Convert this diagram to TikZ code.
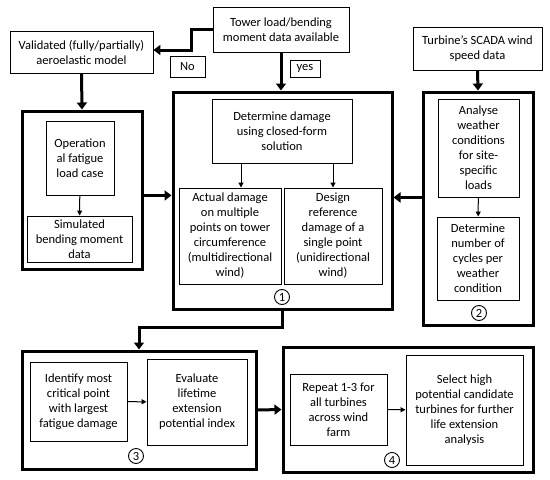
\documentclass[tikz,border=0pt]{standalone}
\usepackage{fontspec}
\setmainfont{Carlito}
\usetikzlibrary{arrows.meta}

\begin{document}
\begin{tikzpicture}[
x=1pt,y=-1pt,
font=\fontsize{12.5}{15}\selectfont,
group/.style={draw,line width=3pt,inner sep=0pt},
box/.style={draw,line width=0.9pt,align=center,inner sep=2pt},
tagbox/.style={draw,line width=0.9pt,inner sep=1pt},
num/.style={circle,draw,line width=0.9pt,inner sep=1pt,minimum size=15pt},
big arrow/.style={line width=3pt,-{Triangle[width=10pt,length=7pt]}},
small arrow/.style={line width=1pt,-{Triangle[width=5pt,length=5pt]}}
]
\useasboundingbox (0,0) rectangle (550,480);

% outer groups
\node[group,minimum width=120,minimum height=158] (loadbox) at (82,190) {};
\node[group,minimum width=219,minimum height=217] (dambox) at (282.5,200.5) {};
\node[group,minimum width=110,minimum height=233] (windbox) at (478,208.5) {};
\node[group,minimum width=234,minimum height=118] (critbox) at (139,410) {};
\node[group,minimum width=250,minimum height=125] (farmbox) at (408,409.5) {};

% inputs
\node[box,minimum width=143,minimum height=42] (valid) at (81.5,52)
	{Validated (fully/partially)\\aeroelastic model};
\node[box,minimum width=136,minimum height=45] (tower) at (281,29.5)
	{Tower load/bending\\moment data available};
\node[box,minimum width=129,minimum height=43] (scada) at (477.5,48.5)
	{Turbine’s SCADA wind\\speed data};
\node[tagbox,minimum width=35,minimum height=21] (no) at (187.5,66.5) {No};
\node[tagbox,minimum width=30,minimum height=17] (yes) at (305,68.5) {yes};

% load case
\node[box,minimum width=68,minimum height=74] (oper) at (80,158)
	{Operation\\al fatigue\\load case};
\node[box,minimum width=105,minimum height=46] (simul) at (79.5,239)
	{Simulated\\bending moment\\data};

% step 1
\node[box,minimum width=140,minimum height=64] (determ) at (282,131)
	{Determine damage\\using closed-form\\solution};
\node[box,minimum width=102,minimum height=96] (actual) at (230,236)
	{Actual damage\\on multiple\\points on tower\\circumference\\(multidirectional\\wind)};
\node[box,minimum width=98,minimum height=96] (design) at (333,236)
	{Design\\reference\\damage of a\\single point\\(unidirectional\\wind)};
\node[num] (n1) at (282,297) {1};

% step 2
\node[box,minimum width=81,minimum height=98] (analyse) at (478.5,148)
	{Analyse\\weather\\conditions\\for site-\\specific\\loads};
\node[box,minimum width=82,minimum height=83] (cycles) at (478,258.5)
	{Determine\\number of\\cycles per\\weather\\condition};
\node[num] (n2) at (479,313) {2};

% step 3
\node[box,minimum width=97,minimum height=79] (ident) at (78.5,401.5)
	{Identify most\\critical point\\with largest\\fatigue damage};
\node[box,minimum width=100,minimum height=86] (evalu) at (197,402)
	{Evaluate\\lifetime\\extension\\potential index};
\node[num] (n3) at (136,456) {3};

% step 4
\node[box,minimum width=97,minimum height=71] (repeat) at (338.5,409.5)
	{Repeat 1-3 for\\all turbines\\across wind\\farm};
\node[box,minimum width=117,minimum height=110] (select) at (464.5,410)
	{Select high\\potential candidate\\turbines for further\\life extension\\analysis};
\node[num] (n4) at (392,460) {4};

% connectors
\coordinate (nobend1) at (191,29.5);
\coordinate (nobend2) at (191,50);
\draw[big arrow] (tower.west) -- (nobend1) -- (nobend2) -- (valid.east |- nobend2);
\draw[big arrow] (tower.south) -- (tower.south |- dambox.north);
\draw[big arrow] (valid.south) -- (loadbox.north);
\draw[big arrow] (scada.south) -- (windbox.north);
\draw[big arrow] (loadbox.east |- oper.south) -- (dambox.west |- oper.south);
\draw[big arrow] (windbox.west |- analyse.south) -- (dambox.east |- analyse.south);
\draw[big arrow] (dambox.south) -- ++(0,17) -| (critbox.north);
\draw[big arrow] (critbox.east) -- (farmbox.west);

\draw[small arrow] (oper) -- (simul);
\draw[small arrow] (analyse) -- (cycles);
\draw[small arrow] ([xshift=11]actual.north |- determ.south) -- ([xshift=11]actual.north);
\draw[small arrow] (design.north |- determ.south) -- (design.north);
\draw[small arrow] (ident) -- (evalu);
\draw[small arrow] (repeat) -- (select);
\end{tikzpicture}
\end{document}
